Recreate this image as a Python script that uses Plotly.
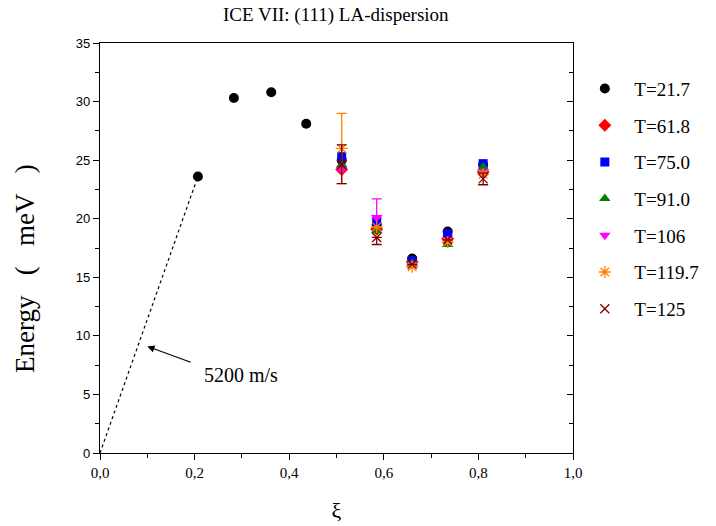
import plotly.graph_objects as go

# ---- data ----
xi_a = [0.207, 0.283, 0.362, 0.436, 0.511, 0.585, 0.66, 0.735, 0.81]
E_217 = [23.6, 30.3, 30.8, 28.1, 25.0, 19.5, 16.6, 18.9, 24.6]

xi_b = [0.511, 0.585, 0.66, 0.735, 0.81]
E_618 = [24.2, 19.1, 16.3, 18.3, 24.0]
E_750 = [25.3, 19.7, 16.4, 18.7, 24.7]
E_910 = [24.6, 19.0, 16.2, 17.8, 24.4]
E_106 = [24.2, 20.1, 16.1, 18.2, 24.0]
E_1197 = [26.0, 19.3, 15.9, 18.0, 23.8]
E_125 = [24.6, 18.4, 16.1, 18.2, 23.4]

err_1197_p = [3.0, 0.0, 0.0, 0.0, 0.0]
err_1197_m = [3.0, 0.0, 0.0, 0.0, 0.0]
err_106_p = [0.0, 1.6, 0.0, 0.0, 0.0]
err_106_m = [0.0, 0.0, 0.0, 0.0, 0.0]
err_125_p = [1.7, 0.0, 0.0, 0.0, 0.5]
err_125_m = [1.6, 0.6, 0.0, 0.0, 0.5]

sound_xi = [0.0, 0.207]
sound_E = [0.0, 23.6]

names = ["T=21.7", "T=61.8", "T=75.0", "T=91.0", "T=106", "T=119.7", "T=125"]
colors = ["#000000", "#FF0000", "#0000FF", "#008000", "#FF00FF", "#FF8000", "#800000"]

SERIF = "Times New Roman, Liberation Serif, serif"
SANS = "Arial, Liberation Sans, sans-serif"
PAD = "\u00a0\u00a0"
GAP = "\u2002\u2005"

fig = go.Figure()

fig.add_trace(go.Scatter(x=sound_xi, y=sound_E, mode="lines",
                         line=dict(color="black", width=1.2, dash="dot"),
                         showlegend=False, hoverinfo="skip"))

def add(x, y, name, color, symbol, size, ep=None, em=None, open_sym=False):
    marker = dict(color=color, symbol=symbol, size=size)
    if open_sym:
        marker["line"] = dict(color=color, width=1.3)
    else:
        marker["line"] = dict(width=0)
    kw = {}
    if ep is not None:
        kw["error_y"] = dict(type="data", symmetric=False, array=ep, arrayminus=em,
                             color=color, thickness=1.3, width=5)
    fig.add_trace(go.Scatter(x=x, y=y, mode="markers", name=PAD + name, marker=marker,
                             legendgroup=name, **kw))

add(xi_a, E_217, names[0], colors[0], "circle", 10)
add(xi_b, E_618, names[1], colors[1], "diamond", 10)
add(xi_b, E_750, names[2], colors[2], "square", 9)
add(xi_b, E_910, names[3], colors[3], "triangle-up", 10)
add(xi_b, E_106, names[4], colors[4], "triangle-down", 10, err_106_p, err_106_m)
add(xi_b, E_1197, names[5], colors[5], "asterisk-open", 10, err_1197_p, err_1197_m, True)
add(xi_b, E_125, names[6], colors[6], "x-thin-open", 9, err_125_p, err_125_m, True)

# invisible right axis to carry inward ticks
fig.add_trace(go.Scatter(x=[None], y=[None], yaxis="y2", showlegend=False, hoverinfo="skip"))

fig.add_annotation(x=0.10, y=9.1, ax=0.195, ay=7.7, xref="x", yref="y", axref="x", ayref="y",
                   text="", showarrow=True, arrowhead=2, arrowsize=1.2, arrowwidth=1.2,
                   arrowcolor="black")
fig.add_annotation(x=0.298, y=6.7, xref="x", yref="y", text="5200 m/s", showarrow=False,
                   font=dict(family=SERIF, size=20, color="black"))
# y axis title
fig.add_annotation(x=-0.1586, y=0.451, xref="paper", yref="paper", xanchor="center",
                   yanchor="middle", textangle=-90, showarrow=False,
                   text="Energy" + GAP + "(" + GAP + "meV" + GAP + ")",
                   font=dict(family=SERIF, size=27, color="black"))

fig.update_layout(
    width=716, height=526,
    margin=dict(l=100, r=143, t=43, b=73, autoexpand=False),
    paper_bgcolor="white", plot_bgcolor="white",
    separators=",.",
    title=dict(text="ICE VII: (111) LA-dispersion", x=0.469, xanchor="center", y=0.972,
               yanchor="middle", font=dict(family=SERIF, size=19, color="black")),
    xaxis=dict(range=[0, 1.0], tickvals=[0, 0.2, 0.4, 0.6, 0.8, 1.0], tickformat=".1f",
               automargin=False,
               showgrid=False, zeroline=False, showline=True, linecolor="black", linewidth=1.3,
               mirror=True, ticks="outside", ticklen=6, tickwidth=1.2, tickcolor="black",
               minor=dict(dtick=0.1, ticks="outside", ticklen=4, tickwidth=1.2, tickcolor="black"),
               tickfont=dict(family=SERIF, size=15, color="black"),
               title=dict(text="ξ", font=dict(family=SERIF, size=22, color="black"), standoff=22)),
    yaxis=dict(range=[0, 35], dtick=5, showgrid=False, zeroline=False, showline=True,
               automargin=False,
               linecolor="black", linewidth=1.3, mirror=True,
               ticks="outside", ticklen=6, tickwidth=1.2, tickcolor="black",
               minor=dict(dtick=2.5, ticks="outside", ticklen=4, tickwidth=1.2, tickcolor="black"),
               tickfont=dict(family=SANS, size=13, color="black")),
    yaxis2=dict(range=[0, 35], dtick=5, overlaying="y", side="right", showgrid=False,
                automargin=False,
                zeroline=False, showline=False, ticks="inside", ticklen=6, tickwidth=1.2,
                tickcolor="black", showticklabels=False,
                minor=dict(dtick=2.5, ticks="inside", ticklen=4, tickwidth=1.2, tickcolor="black")),
    legend=dict(x=1.025, xanchor="left", y=0.935, yanchor="top", bgcolor="rgba(0,0,0,0)",
                font=dict(family=SERIF, size=19, color="black"), tracegroupgap=9,
                itemwidth=30),
)

fig.write_html("out.html", post_script="document.body.style.margin='0';",
               config={"displayModeBar": False})
